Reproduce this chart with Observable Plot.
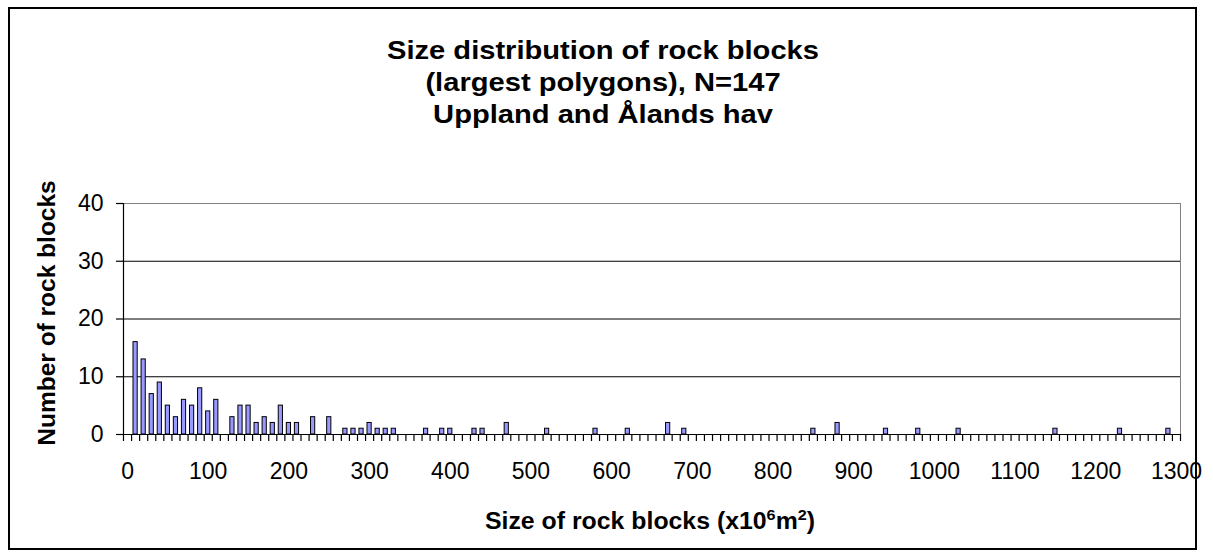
<!DOCTYPE html>
<html>
<head>
<meta charset="utf-8">
<script src="https://cdn.jsdelivr.net/npm/d3@7"></script>
<script src="https://cdn.jsdelivr.net/npm/@observablehq/plot@0.6"></script>
<style>
  html, body { margin: 0; padding: 0; background: #fff; }
  #wrap { position: relative; width: 1213px; height: 557px; overflow: hidden;
          font-family: "Liberation Sans", Arial, sans-serif; color: #000; }
  #border { position: absolute; left: 8px; top: 7px; width: 1189px; height: 543px;
            border: 2px solid #000; box-sizing: border-box; }
  #title { position: absolute; left: 0; width: 1206px; top: 34px; text-align: center;
           font-weight: bold; font-size: 26px; line-height: 32px; transform: scaleX(1.12); }
  #ytitle { position: absolute; left: 47px; top: 313px; transform: translate(-50%, -50%) rotate(-90deg);
            white-space: nowrap; font-weight: bold; font-size: 24.5px; }
  #xtitle { position: absolute; left: 650px; top: 521px; transform: translate(-50%, -50%) scaleX(1.08);
            white-space: nowrap; font-weight: bold; font-size: 23px; }
  #xtitle sup { font-size: 15px; vertical-align: 9px; line-height: 0; }
  #chart { position: absolute; left: 0; top: 0; }
</style>
</head>
<body>
<div id="wrap">
  <div id="chart"></div>
  <div id="border"></div>
  <div id="title">Size distribution of rock blocks<br>(largest polygons), N=147<br>Uppland and Ålands hav</div>
  <div id="ytitle">Number of rock blocks</div>
  <div id="xtitle">Size of rock blocks (x10<sup>6</sup>m<sup>2</sup>)</div>
</div>
<script>
// Category bins (size classes, x10^6 m^2)
const categories = d3.range(0, 1310, 10);
// Non-empty size classes and their counts
const sizes  = [10,20,30,40,50,60,70,80,90,100,110,
                130,140,150,160,170,180,190,200,210,
                230,250,
                270,280,290,300,310,320,330,
                370,390,400,430,440,
                470,
                520,580,620,
                670,690,
                850,880,
                940,980,1030,1150,1230,1290];
const counts = [16,13,7,9,5,3,6,5,8,4,6,
                3,5,5,2,3,2,5,2,2,
                3,3,
                1,1,1,2,1,1,1,
                1,1,1,1,1,
                2,
                1,1,1,
                2,1,
                1,2,
                1,1,1,1,1,1];
const xTickLabels = [0,100,200,300,400,500,600,700,800,900,1000,1100,1200,1300];
const yTicks = [0,10,20,30,40];
const gridLines = [10,20,30];

const data = sizes.map((s, i) => ({size: s, count: counts[i]}));
const binHalf = 5;            // half of a category width
const barHalf = 2.6;          // half bar width, in data units
const xDomain = [categories[0] - binHalf, categories[categories.length - 1] + binHalf];
const boundaries = categories.map(c => c - binHalf).concat([xDomain[1]]);

const chart = Plot.plot({
  width: 1213,
  height: 557,
  marginLeft: 123,
  marginRight: 33,
  marginTop: 203,
  marginBottom: 123,
  style: {fontFamily: "'Liberation Sans', Arial, sans-serif", fontSize: "23px", color: "#000", background: "transparent"},
  x: {type: "linear", domain: xDomain, axis: null},
  y: {type: "linear", domain: [0, 40], axis: null},
  marks: [
    Plot.ruleY(gridLines, {stroke: "#000", strokeWidth: 1}),
    Plot.frame({stroke: "#808080", strokeWidth: 1}),
    Plot.rectY(data, {x1: d => d.size - barHalf, x2: d => d.size + barHalf, y1: 0, y2: "count",
                      fill: "#9999ff", stroke: "#000", strokeWidth: 1}),
    Plot.ruleX([xDomain[0]], {stroke: "#000", strokeWidth: 1.2}),
    Plot.ruleY([0], {stroke: "#000", strokeWidth: 1.2}),
    Plot.axisX(boundaries, {tickSize: 7, tickFormat: () => "", stroke: "#000", strokeWidth: 1.2, label: null}),
    Plot.axisX(xTickLabels, {tickSize: 0, tickPadding: 28, fontSize: 23, label: null, tickFormat: d => String(d)}),
    Plot.axisY(yTicks, {tickSize: 7, tickPadding: 13, fontSize: 23, label: null, stroke: "#000", strokeWidth: 1.2})
  ]
});
document.getElementById("chart").appendChild(chart);
</script>
</body>
</html>
